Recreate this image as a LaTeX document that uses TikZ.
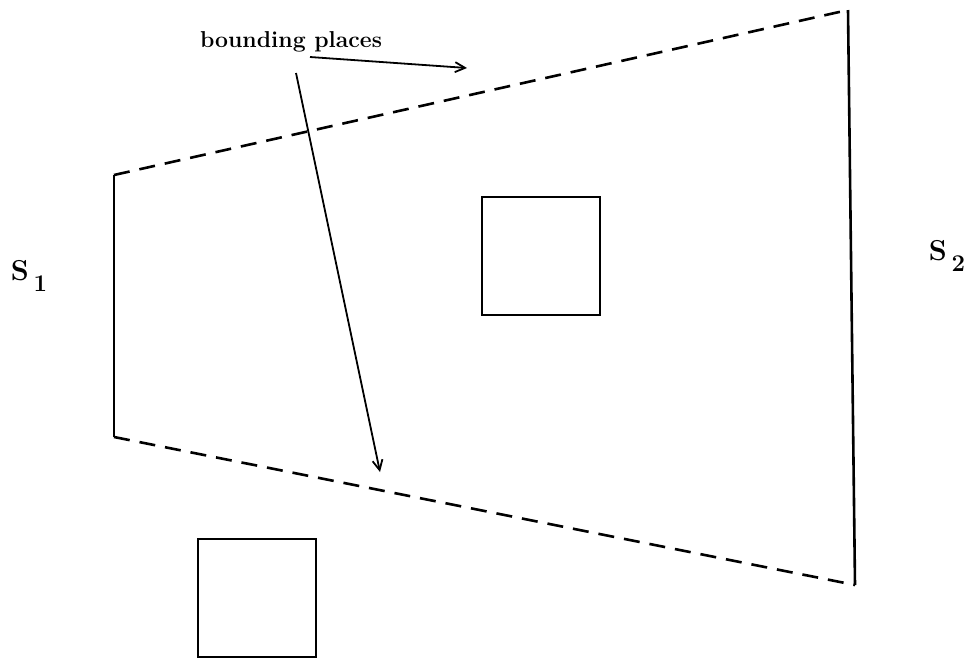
\documentclass[tikz,border=0pt]{standalone}
\usepackage{tikz}
\usetikzlibrary{arrows.meta,positioning}

\begin{document}
\begin{tikzpicture}[
  x=0.5pt, y=-0.5pt,
  wall/.style={line width=1.3pt},
  bound/.style={line width=1.3pt, dash pattern=on 8pt off 5pt},
  pointer/.style={-{Straight Barb[length=5pt,width=5pt]}, line width=0.9pt},
  obstacle/.style={draw, line width=1.3pt, minimum size=59pt, inner sep=0pt},
  lbl/.style={font=\Large\bfseries, inner sep=1pt}
]
\useasboundingbox (0,0) rectangle (969,660);
% corners of the region
\coordinate (s1top) at (114,175);
\coordinate (s1bot) at (114,437);
\coordinate (s2top) at (848,10);
\coordinate (s2bot) at (855,585);
\draw[wall] (s1top)--(s1bot);
\draw[wall] (s2top)--(s2bot);
\draw[bound] (s1top)--(s2top);
\draw[bound] (s1bot)--(s2bot);

\node[obstacle] (boxa) at (541,256) {};
\node[obstacle] (boxb) at (257,598) {};

\node[lbl] (s1) at (29,276) {S\,\raisebox{-0.8ex}{\large 1}};
\node[lbl] (s2) at (947,256) {S\,\raisebox{-0.8ex}{\large 2}};

\node[font=\fontsize{11.5}{13}\selectfont\bfseries, inner sep=1pt] (label) at (291,42) {bounding places};
\coordinate (fromtop) at (310,57);
\coordinate (frombot) at (296,73);
\coordinate (tiptop) at (467,68);
\coordinate (tipbot) at (380,472);
\draw[pointer] (fromtop)--(tiptop);
\draw[pointer] (frombot)--(tipbot);
\end{tikzpicture}
\end{document}
